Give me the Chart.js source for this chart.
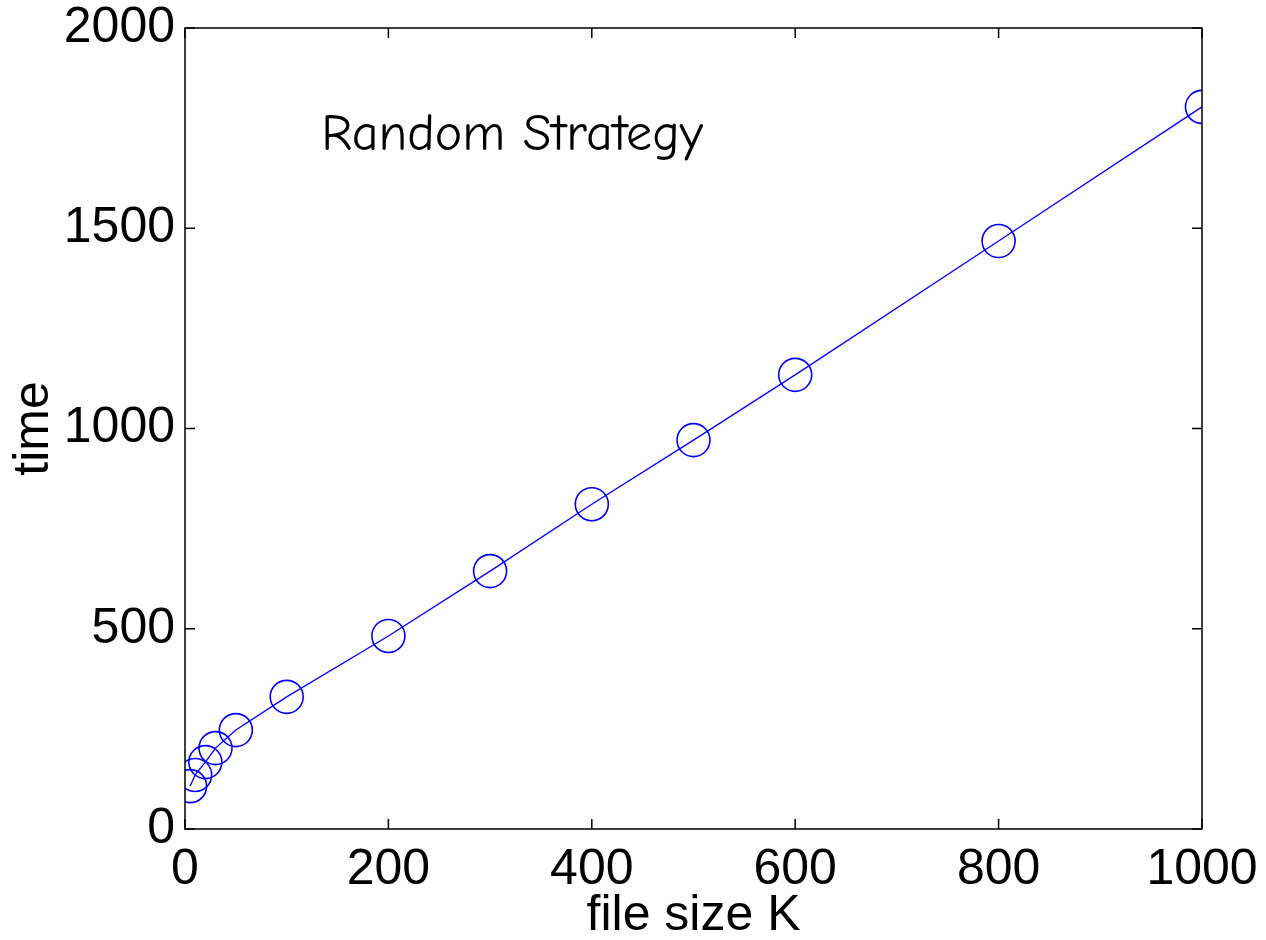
<!DOCTYPE html>
<html>
<head>
<meta charset="utf-8">
<script src="https://cdn.jsdelivr.net/npm/chart.js@4/dist/chart.umd.min.js"></script>
<style>
  body { margin: 0; background: #fff; }
</style>
</head>
<body>
<canvas id="chart" width="1266" height="940"></canvas>
<script>
// file size (K) and measured time for the random strategy
const fileSizes = [5, 10, 20, 30, 50, 100, 200, 300, 400, 500, 600, 800, 1000];
const times = [107, 135, 167, 202, 247, 330, 482, 644, 811, 971, 1134, 1468, 1803];
const xTicks = [0, 200, 400, 600, 800, 1000];
const yTicks = [0, 500, 1000, 1500, 2000];
const label = 'Random Strategy';

const points = fileSizes.map((x, i) => ({ x: x, y: times[i] }));

// box around the plot with inward tick marks on all four sides, plus the text label
const framePlugin = {
  id: 'frame',
  afterDraw(chart) {
    const { ctx, chartArea: a, scales } = chart;
    ctx.save();
    ctx.strokeStyle = '#000';
    ctx.lineWidth = 1.5;
    ctx.strokeRect(a.left, a.top, a.right - a.left, a.bottom - a.top);
    const len = 10;
    ctx.beginPath();
    xTicks.forEach(v => {
      const px = scales.x.getPixelForValue(v);
      ctx.moveTo(px, a.bottom); ctx.lineTo(px, a.bottom - len);
      ctx.moveTo(px, a.top); ctx.lineTo(px, a.top + len);
    });
    yTicks.forEach(v => {
      const py = scales.y.getPixelForValue(v);
      ctx.moveTo(a.left, py); ctx.lineTo(a.left + len, py);
      ctx.moveTo(a.right, py); ctx.lineTo(a.right - len, py);
    });
    ctx.stroke();

    ctx.fillStyle = '#000';
    ctx.font = '52px "Comic Sans MS", "Comic Neue", "DejaVu Sans", sans-serif';
    ctx.textBaseline = 'middle';
    ctx.textAlign = 'left';
    ctx.fillText(label, scales.x.getPixelForValue(134), scales.y.getPixelForValue(1733));
    ctx.restore();
  }
};

const tickFont = { family: 'Liberation Sans, Arial, sans-serif', size: 50 };
const plain = v => String(v);

new Chart(document.getElementById('chart'), {
  type: 'scatter',
  data: {
    datasets: [{
      label: label,
      data: points,
      showLine: true,
      borderColor: '#0000ff',
      borderWidth: 1.3,
      backgroundColor: 'rgba(0,0,0,0)',
      pointStyle: 'circle',
      pointRadius: 16.5,
      pointHoverRadius: 16.5,
      pointBorderWidth: 1.6,
      pointBorderColor: '#0000ff',
      pointBackgroundColor: 'rgba(0,0,0,0)',
      tension: 0
    }]
  },
  options: {
    responsive: false,
    animation: false,
    events: [],
    layout: { padding: { left: 0, right: 64, top: 28, bottom: 0 } },
    plugins: {
      legend: { display: false },
      tooltip: { enabled: false }
    },
    scales: {
      x: {
        type: 'linear',
        min: 0,
        max: 1000,
        afterBuildTicks: s => { s.ticks = xTicks.map(v => ({ value: v })); },
        afterFit: s => { s.height = 111; s.paddingLeft = 0; s.paddingRight = 0; },
        grid: { display: false, drawTicks: false },
        border: { display: false },
        ticks: { color: '#000', font: tickFont, padding: 11, maxRotation: 0, callback: plain },
        title: { display: true, text: 'file size K', color: '#000', font: tickFont, padding: { top: 0, bottom: -6 } }
      },
      y: {
        type: 'linear',
        min: 0,
        max: 2000,
        afterBuildTicks: s => { s.ticks = yTicks.map(v => ({ value: v })); },
        afterFit: s => { s.width = 185; s.paddingTop = 0; s.paddingBottom = 0; },
        grid: { display: false, drawTicks: false },
        border: { display: false },
        ticks: { color: '#000', font: tickFont, padding: 10, callback: plain },
        title: { display: true, text: 'time', color: '#000', font: tickFont, padding: { top: 4, bottom: 0 } }
      }
    }
  },
  plugins: [framePlugin]
});
</script>
</body>
</html>
